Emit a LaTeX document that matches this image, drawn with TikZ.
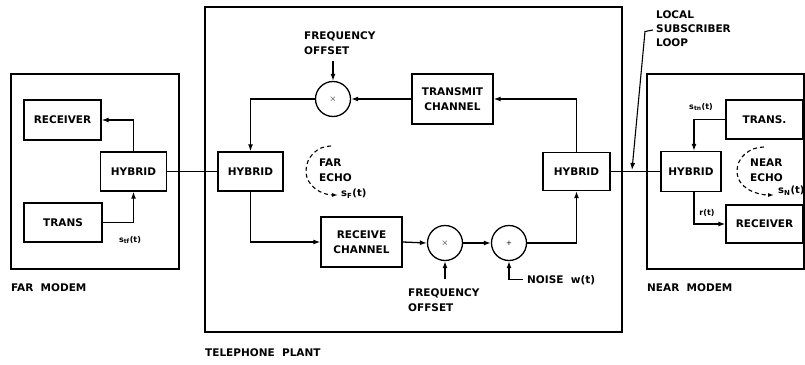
\documentclass[tikz,border=0pt]{standalone}
\usepackage{fontspec}
\setmainfont{DejaVu Sans}
\usetikzlibrary{arrows.meta,calc}
\begin{document}
\begin{tikzpicture}[x=1pt,y=-1pt,
  font=\fontsize{10.5}{15}\selectfont\bfseries,
  blk/.style={draw, line width=1.4pt, rectangle, inner sep=0pt, align=center},
  frame/.style={draw, line width=1.2pt, rectangle, inner sep=0pt},
  mix/.style={draw, circle, line width=1.3pt, inner sep=0pt, minimum size=35pt, font=\fontsize{9}{9}\selectfont\mdseries},
  wire/.style={line width=1.3pt},
  arr/.style={wire, -{Latex[length=7pt,width=5pt]}},
  lab/.style={inner sep=0pt, align=left},
  small/.style={font=\fontsize{8}{9}\selectfont\bfseries},
  echo/.style={line width=1.1pt, dash pattern=on 4pt off 3pt, -{Latex[length=6pt,width=4pt]}}
]
\useasboundingbox (0,0) rectangle (805,364);

% frames
\node[frame, minimum width=168pt, minimum height=195pt] (farbox) at (95,171.5) {};
\node[frame, minimum width=417pt, minimum height=325pt] (plantbox) at (413.5,169.5) {};
\node[frame, minimum width=157pt, minimum height=195pt] (nearbox) at (725.5,171.5) {};

\node[lab, anchor=west] (farlab) at (11,288) {FAR\ \ MODEM};
\node[lab, anchor=west] (tellab) at (205,353) {TELEPHONE\ \ PLANT};
\node[lab, anchor=west] (nearlab) at (647,288) {NEAR\ \ MODEM};

% far modem
\node[blk, minimum width=77pt, minimum height=40pt] (frec) at (62.5,120) {RECEIVER};
\node[blk, minimum width=66pt, minimum height=39pt] (fhyb) at (133.5,171.5) {HYBRID};
\node[blk, minimum width=78pt, minimum height=39pt] (ftr) at (63,222.5) {TRANS};
\node[lab, small] (stf) at (130,240) {s\textsubscript{tf}(t)};
\draw[arr] (ftr.east) -| (fhyb.south);
\draw[arr] (fhyb.north) |- (frec.east);

% telephone plant
\node[blk, minimum width=65pt, minimum height=39pt] (phl) at (250.5,171.5) {HYBRID};
\node[mix] (mx1) at (333,99) {$\times$};
\node[blk, minimum width=81pt, minimum height=50pt] (tx) at (452.5,99) {TRANSMIT\\CHANNEL};
\node[blk, minimum width=81pt, minimum height=50pt] (rx) at (361.5,242) {RECEIVE\\CHANNEL};
\node[mix] (mx2) at (445,243) {$\times$};
\node[mix, font=\fontsize{7}{7}\selectfont\mdseries] (ad) at (509,243) {+};
\node[blk, minimum width=67pt, minimum height=38pt] (phr) at (576.5,171.5) {HYBRID};

\node[lab, anchor=west] (fo1) at (304,43.5) {FREQUENCY\\OFFSET};
\coordinate (fo1end) at (333,61);
\node[lab, anchor=west] (fo2) at (408,300.5) {FREQUENCY\\OFFSET};
\coordinate (fo2end) at (445,279);
\node[lab, anchor=west] (noise) at (527,280) {NOISE\ \ w(t)};
\coordinate (nz) at (523,279.5);

\draw[wire] (fhyb.east) -- (phl.west);
\draw[arr] (tx.west) -- (mx1.east);
\draw[arr] (fo1end) -- (mx1.north);
\draw[arr] (mx1.west) -| (phl.north);
\draw[arr] (phl.south) |- (rx.west);
\draw[arr] (rx.east) -- (mx2.west);
\draw[arr] (fo2end) -- (mx2.south);
\draw[arr] (mx2.east) -- (ad.west);
\draw[arr] (nz) -| (ad.south);
\draw[arr] (ad.east) -| (phr.south);
\draw[arr] (phr.north) |- (tx.east);

\node[lab, anchor=west] (farecho) at (319,170) {FAR\\ECHO};
\node[lab, anchor=west, font=\fontsize{10}{12}\selectfont\bfseries] (sf) at (341,194) {s\textsubscript{F}(t)};
\coordinate (fe1) at (331,146);
\coordinate (fe2) at (306,171);
\coordinate (fe3) at (338,195);
\draw[echo] (fe1) to[out=180,in=90] (fe2) to[out=270,in=180] (fe3);

% local subscriber loop
\node[lab, anchor=west, font=\fontsize{10.5}{14}\selectfont\bfseries] (lsl) at (656,29) {LOCAL\\SUBSCRIBER\\LOOP};
\coordinate (ls0) at (653,30);
\coordinate (ls1) at (645,31.5);
\coordinate (lsend) at (632,170);
\draw[arr, line width=1.1pt] (ls0) -- (ls1) -- (lsend);

% near modem
\node[blk, minimum width=60pt, minimum height=40pt] (nhyb) at (691,171.5) {HYBRID};
\node[blk, minimum width=77pt, minimum height=39pt] (ntr) at (764.5,119.5) {TRANS.};
\node[blk, minimum width=77pt, minimum height=38pt] (nrec) at (764.5,224) {RECEIVER};
\node[lab, small] (stn) at (701,107) {s\textsubscript{tn}(t)};
\node[lab, small] (rt) at (707,213) {r(t)};
\draw[wire] (phr.east) -- (nhyb.west);
\draw[arr] (ntr.west) -| ($(nhyb.north)+(3,0)$);
\draw[arr] ($(nhyb.south)+(3,0)$) |- (nrec.west);

\node[lab, anchor=west] (nearecho) at (750,170.5) {NEAR\\ECHO};
\node[lab, anchor=west, font=\fontsize{10}{12}\selectfont\bfseries] (sn) at (778,191) {s\textsubscript{N}(t)};
\coordinate (ne1) at (764,147);
\coordinate (ne2) at (737,171);
\coordinate (ne3) at (774,195);
\draw[echo] (ne1) to[out=180,in=90] (ne2) to[out=270,in=180] (ne3);
\end{tikzpicture}
\end{document}
